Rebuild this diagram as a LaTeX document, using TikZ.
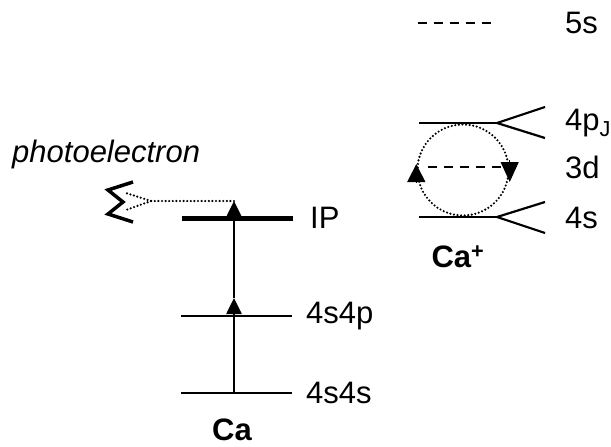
\documentclass[tikz,border=0pt]{standalone}
\usepackage{fontspec}
\setmainfont{Liberation Sans}
\usepackage{tikz}
\usetikzlibrary{positioning,arrows.meta}

\begin{document}
\begin{tikzpicture}[
  x=1pt, y=-1pt,
  >={Triangle[length=16pt,width=15pt]},
  lbl/.style={
    anchor=west,
    inner sep=0pt,
    font=\fontsize{31}{36}\selectfont
  },
  level/.style={line width=2.6pt},
  ipline/.style={line width=5pt},
  fork/.style={line width=2.2pt},
  dots/.style={line width=2.4pt, dash pattern=on 0pt off 3.6pt, line cap=round},
  dashline/.style={line width=2.4pt, dash pattern=on 9pt off 7pt}
]
\useasboundingbox (0,0) rectangle (611,447);

% Ca levels
\coordinate (gsL)  at (181,393);
\coordinate (gsR)  at (292,393);
\coordinate (exL)  at (181,316);
\coordinate (exR)  at (292,316);
\coordinate (ipL)  at (182,218);
\coordinate (ipR)  at (293,218);
\coordinate (gs)   at (234,393);
\coordinate (ex)   at (234,298);
\coordinate (ipTip) at (234,201);

\node[lbl] (l4s4s) at (306,393) {4s4s};
\node[lbl] (l4s4p) at (306,316) {4s4p};
\node[lbl] (lIP)   at (310,218) {IP};
\node[lbl, anchor=center, font=\fontsize{31}{36}\selectfont\bfseries] (lCa) at (232,430) {Ca};
\node[lbl, anchor=base west, font=\fontsize{31}{36}\selectfont\itshape] (lphoto) at (12,162) {photoelectron};

\draw[level]  (gsL) -- (gsR);
\draw[level]  (exL) -- (exR);
\draw[ipline] (ipL) -- (ipR);
\draw[line width=2.6pt,->] (gs) -- (ex);
\draw[line width=2.6pt,->] (ex) -- (ipTip);

% photoelectron
\coordinate (split) at (151,201);
\coordinate (hdUp)  at (126,193);
\coordinate (hdLo)  at (126,210);
\draw[dots] (ipTip) -- (split);
\draw[dots] (split) -- (hdUp);
\draw[dots] (split) -- (hdLo);
\draw[line width=3.5pt, line join=miter] (133,182) -- (108,190) -- (123,202) -- (108,214) -- (133,222);

% Ca+ levels
\coordinate (p4L) at (419,123);
\coordinate (p4R) at (497,123);
\coordinate (s4L) at (419,217);
\coordinate (s4R) at (497,217);
\coordinate (s5L) at (418,23);
\coordinate (s5R) at (497,23);
\coordinate (d3L) at (428,167);
\coordinate (d3R) at (504,167);

\node[lbl] (l5s)  at (565,23)  {5s};
\node[lbl] (l4p)  at (565,123) {4p\textsubscript{J}};
\node[lbl] (l3d)  at (565,167) {3d};
\node[lbl] (l4s)  at (565,218) {4s};
\node[lbl, anchor=center, font=\fontsize{31}{36}\selectfont\bfseries] (lCaP) at (458,257) {Ca\textsuperscript{+}};

\draw[dashline] (s5L) -- (s5R);
\draw[level] (p4L) -- (p4R);
\draw[level] (s4L) -- (s4R);
\draw[fork] (p4R) -- (545,107);
\draw[fork] (p4R) -- (545,138);
\draw[fork] (s4R) -- (545,202);
\draw[fork] (s4R) -- (545,233);
\draw[dashline] (d3L) -- (d3R);

\node[circle, draw, dots, minimum size=91pt, inner sep=0pt] (cyc) at (463,170) {};
\draw[line width=1pt,{Triangle[length=18pt,width=18pt]}-] ([yshift=6pt]cyc.west) -- ([yshift=-12pt]cyc.west);
\draw[line width=1pt,{Triangle[length=20pt,width=18pt]}-] ([yshift=-12pt]cyc.east) -- ([yshift=10pt]cyc.east);
\end{tikzpicture}
\end{document}
